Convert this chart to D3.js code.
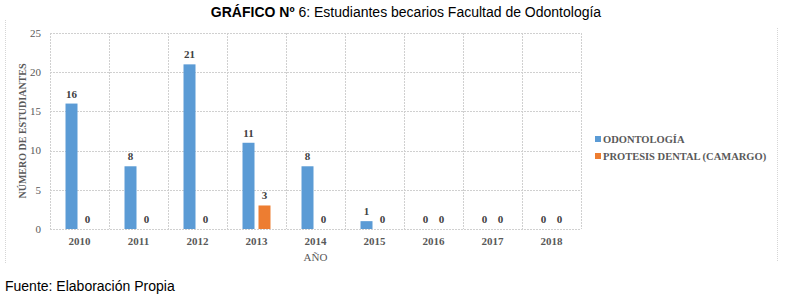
<!DOCTYPE html>
<html>
<head>
<meta charset="utf-8">
<script src="https://cdn.jsdelivr.net/npm/d3@7"></script>
<style>
  body { margin: 0; background: #fff; }
  svg { display: block; }
</style>
</head>
<body>
<svg id="chart"></svg>
<script>
const years = ["2010", "2011", "2012", "2013", "2014", "2015", "2016", "2017", "2018"];
const seriesNames = ["ODONTOLOGÍA", "PROTESIS DENTAL (CAMARGO)"];
const odontologia = [16, 8, 21, 11, 8, 1, 0, 0, 0];
const protesis = [0, 0, 0, 3, 0, 0, 0, 0, 0];
const yTicks = [0, 5, 10, 15, 20, 25];
const seriesColors = ["#5b9bd5", "#ed7d31"];

const svgWidth = 812;
const svgHeight = 307;
const margin = { top: 33, left: 50, plotRight: 581, bottom: 229 };

const svg = d3.select("#chart")
    .attr("width", svgWidth)
    .attr("height", svgHeight);

const serif = "'Liberation Serif', 'Times New Roman', serif";
const sans = "'Liberation Sans', Arial, sans-serif";

const rows = years.map((y, i) => ({ year: y, values: [odontologia[i], protesis[i]] }));

const x0 = d3.scaleBand().domain(years).range([margin.left, margin.plotRight]).padding(0);
const x1 = d3.scaleBand().domain([0, 1]).range([0, x0.bandwidth()])
    .paddingInner(0.25).paddingOuter(0.97);
const y = d3.scaleLinear().domain([0, 25]).range([margin.bottom, margin.top]);

// Title
const title = svg.append("text")
    .attr("x", 406)
    .attr("y", 17)
    .attr("text-anchor", "middle")
    .style("font-family", sans)
    .style("font-size", "14px")
    .style("fill", "#000");
title.append("tspan").style("font-weight", "bold").text("GRÁFICO Nº ");
title.append("tspan").text("6: Estudiantes becarios Facultad de Odontología");

// chart frame (left and right dotted edges)
svg.append("line")
    .attr("x1", 5.5).attr("x2", 5.5).attr("y1", 20).attr("y2", 263)
    .attr("stroke", "#d6d6d6").attr("stroke-dasharray", "1,1");
svg.append("line")
    .attr("x1", 777.5).attr("x2", 777.5).attr("y1", 28).attr("y2", 262)
    .attr("stroke", "#d6d6d6").attr("stroke-dasharray", "1,1");

// horizontal grid
svg.append("g")
    .selectAll("line")
    .data(yTicks)
    .enter().append("line")
    .attr("x1", margin.left)
    .attr("x2", margin.plotRight)
    .attr("y1", d => Math.round(y(d)) + 0.5)
    .attr("y2", d => Math.round(y(d)) + 0.5)
    .attr("stroke", "#d0d0d0")
    .attr("stroke-dasharray", "2,1");

// vertical grid at category edges
const edges = years.map(d => x0(d)).concat([margin.plotRight]);
svg.append("g")
    .selectAll("line")
    .data(edges)
    .enter().append("line")
    .attr("x1", d => Math.round(d) + 0.5)
    .attr("x2", d => Math.round(d) + 0.5)
    .attr("y1", margin.top)
    .attr("y2", margin.bottom)
    .attr("stroke", "#d0d0d0")
    .attr("stroke-dasharray", "2,1");

// y tick labels
svg.append("g")
    .selectAll("text")
    .data(yTicks)
    .enter().append("text")
    .attr("x", 41)
    .attr("y", d => y(d))
    .attr("dy", "0.35em")
    .attr("text-anchor", "end")
    .style("font-family", serif)
    .style("font-size", "11px")
    .style("fill", "#595959")
    .text(d => d);

// x tick labels
svg.append("g")
    .selectAll("text")
    .data(years)
    .enter().append("text")
    .attr("x", d => x0(d) + x0.bandwidth() / 2)
    .attr("y", 245)
    .attr("text-anchor", "middle")
    .style("font-family", serif)
    .style("font-size", "11px")
    .style("font-weight", "bold")
    .style("fill", "#595959")
    .text(d => d);

// axis titles
svg.append("text")
    .attr("x", (margin.left + margin.plotRight) / 2)
    .attr("y", 261)
    .attr("text-anchor", "middle")
    .style("font-family", serif)
    .style("font-size", "11px")
    .style("fill", "#595959")
    .text("AÑO");

svg.append("text")
    .attr("transform", "rotate(-90)")
    .attr("x", -(margin.top + margin.bottom) / 2)
    .attr("y", 26)
    .attr("text-anchor", "middle")
    .style("font-family", serif)
    .style("font-size", "10px")
    .style("font-weight", "bold")
    .style("fill", "#595959")
    .text("NÚMERO DE ESTUDIANTES");

// bars
const groups = svg.append("g")
    .selectAll("g")
    .data(rows)
    .enter().append("g")
    .attr("transform", d => `translate(${x0(d.year)},0)`);

groups.selectAll("rect")
    .data(d => d.values.map((v, i) => ({ v: v, i: i })))
    .enter().append("rect")
    .attr("x", d => x1(d.i))
    .attr("width", x1.bandwidth())
    .attr("y", d => y(d.v))
    .attr("height", d => y(0) - y(d.v))
    .attr("fill", d => seriesColors[d.i]);

groups.selectAll("text")
    .data(d => d.values.map((v, i) => ({ v: v, i: i })))
    .enter().append("text")
    .attr("x", d => x1(d.i) + x1.bandwidth() / 2)
    .attr("y", d => y(d.v) - 6)
    .attr("text-anchor", "middle")
    .style("font-family", serif)
    .style("font-size", "11px")
    .style("font-weight", "bold")
    .style("fill", "#404040")
    .text(d => d.v);

// legend
const legend = svg.append("g")
    .selectAll("g")
    .data(seriesNames)
    .enter().append("g")
    .attr("transform", (d, i) => `translate(595,${139 + i * 17})`);

legend.append("rect")
    .attr("x", 0)
    .attr("y", -3)
    .attr("width", 6)
    .attr("height", 6)
    .attr("fill", (d, i) => seriesColors[i]);

legend.append("text")
    .attr("x", 8)
    .attr("y", 0)
    .attr("dy", "0.35em")
    .style("font-family", serif)
    .style("font-size", "10.5px")
    .style("font-weight", "bold")
    .style("fill", "#595959")
    .text(d => d);

// source
svg.append("text")
    .attr("x", 5)
    .attr("y", 291)
    .style("font-family", sans)
    .style("font-size", "14px")
    .style("fill", "#000")
    .text("Fuente: Elaboración Propia");
</script>
</body>
</html>
